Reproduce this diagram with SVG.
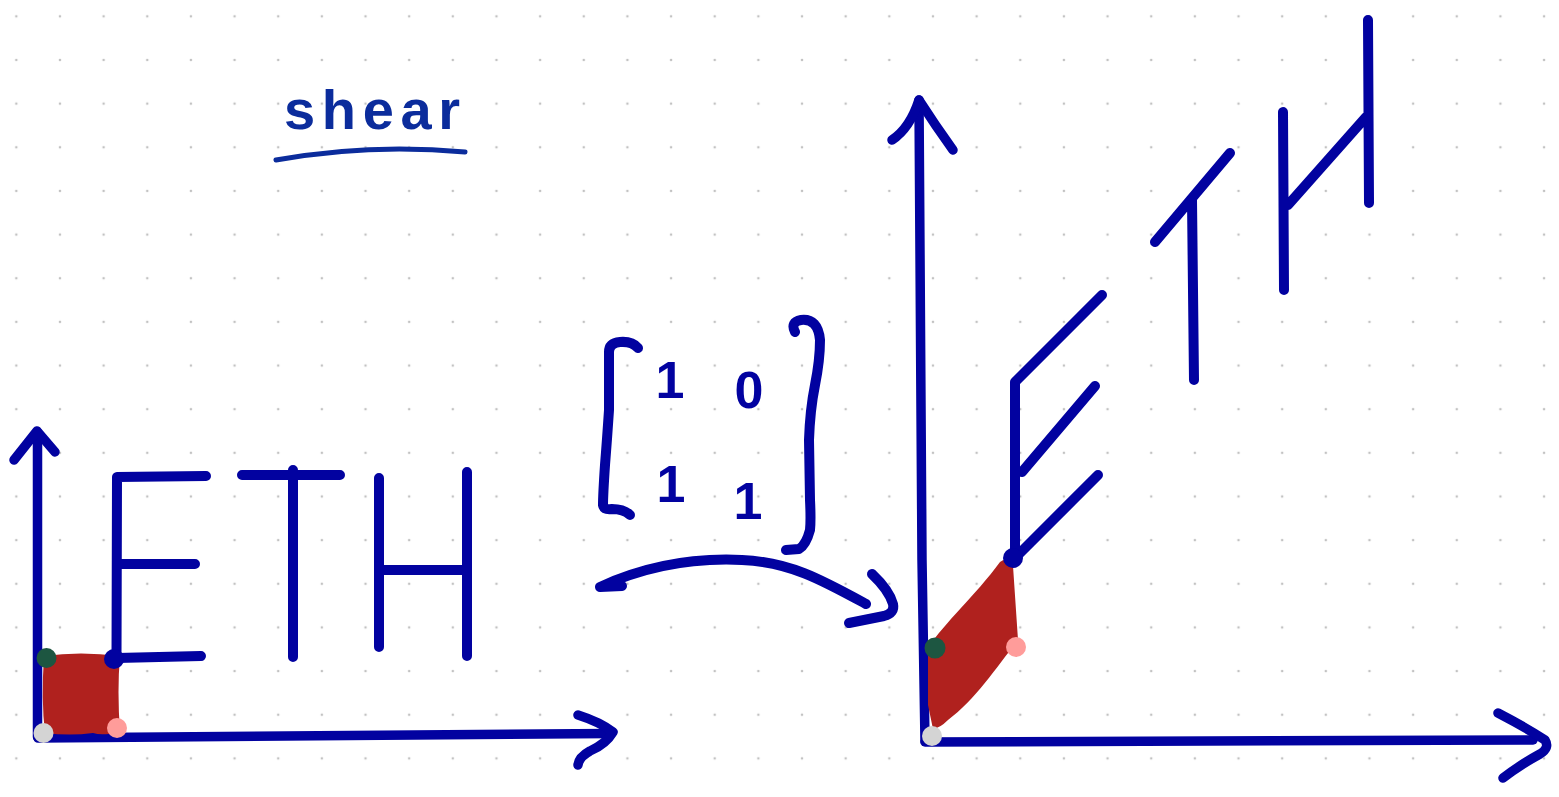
<svg xmlns="http://www.w3.org/2000/svg" width="1559" height="797" viewBox="0 0 1559 797">
<style>
.ink{fill:none;stroke:#0202a0;stroke-width:10;stroke-linecap:round;stroke-linejoin:round}
.axis{fill:none;stroke:#0202a0;stroke-width:9.5;stroke-linecap:round;stroke-linejoin:round}
.num{font-family:"Liberation Sans",Arial,sans-serif;font-weight:bold;font-size:52px;fill:#0202a0;text-anchor:middle}
.title{font-family:"Liberation Sans",Arial,sans-serif;font-weight:bold;font-size:56px;fill:#0b2c9c}
.blob{fill:#b0211e}
</style>
<defs>
<pattern id="dots" width="43.65" height="43.65" patternUnits="userSpaceOnUse" x="-5.5" y="-5.5">
<circle cx="21.8" cy="21.8" r="1.3" fill="#c2c2c2"/>
</pattern>
</defs>
<rect width="1559" height="797" fill="#ffffff"/>
<rect width="1559" height="797" fill="url(#dots)"/>

<g id="title">
<text class="title" x="284" y="129" textLength="176" lengthAdjust="spacing">shear</text>
<path d="M276,160 Q370,143 465,152" fill="none" stroke="#0b2c9c" stroke-width="5" stroke-linecap="round"/>
</g>

<g id="matrix">
<path class="ink" d="M638,348 Q632,341 620,342 Q609,343 609,352 L609,410 Q607,440 605,465 Q603,495 603,505 Q604,510 612,509 Q624,509 630,515"/>
<path class="ink" d="M795,332 Q790,322 801,320 Q818,318 820,340 Q820,360 815,385 Q810,410 809,440 L810,500 Q811,520 810,530 Q806,545 799,549 L786,550"/>
<text class="num" x="670" y="398">1</text>
<text class="num" x="749" y="408">0</text>
<text class="num" x="671" y="502">1</text>
<text class="num" x="748" y="519">1</text>
</g>

<g id="left-plot">
<path class="axis" d="M37.5,737 L37.5,432"/>
<path class="axis" d="M14,460 L37,431 L55,452"/>
<path class="axis" d="M38,738 L610,733.5"/>
<path class="axis" d="M578,715 Q600,722 613,732 Q606,744 590,751 Q579,757 578,765"/>
<path class="blob" d="M44,656 Q80,651 120,656 Q117,690 120,732 Q102,736 93,733 Q70,736 45,733 Q41,700 44,656 Z"/>
<g id="letters-eth">
<path class="ink" d="M206,476 L117,477 L116.5,659 M117,564 L195,564 M117,658 L201,656"/>
<path class="ink" d="M242,475 L340,475 M293,470 L293,657"/>
<path class="ink" d="M379,478 L379,647 M379,570 L467,570 M467,472 L467,656"/>
</g>
<circle cx="46.5" cy="658" r="10" fill="#1d5641"/>
<circle cx="114" cy="659" r="10" fill="#0202a0"/>
<circle cx="43.5" cy="733" r="10" fill="#d4d4d4"/>
<circle cx="117" cy="728" r="10" fill="#ff9c9a"/>
</g>

<g id="right-plot">
<path class="axis" d="M925,741 L922,560 L919,100"/>
<path class="axis" d="M892,140 Q910,128 919,100 Q935,125 953,150"/>
<path class="axis" d="M925,742 L1533,740"/>
<path class="axis" d="M1498,713 Q1525,727 1545,740 Q1550,748 1540,754 Q1520,765 1503,778"/>
<path class="blob" d="M1000,562 Q1008,556 1013,566 L1018,640 C996,668 975,700 948,720 Q940,728 933,729 L928,705 L928,648 C945,622 975,596 1000,562 Z"/>
<g id="letters-eth-sheared">
<path class="ink" d="M1102,295 L1015,382 L1015,558 M1022,472 L1095,386 M1015,558 L1098,475"/>
<path class="ink" d="M1155,242 L1230,153 M1192,200 L1194,380"/>
<path class="ink" d="M1283,112 L1284,290 M1288,205 L1366,117 M1368,20 L1369,203"/>
</g>
<circle cx="935" cy="648" r="10.5" fill="#1d5641"/>
<circle cx="1013" cy="558" r="10" fill="#0202a0"/>
<circle cx="932" cy="736" r="10" fill="#d4d4d4"/>
<circle cx="1016" cy="647" r="10" fill="#ff9c9a"/>
</g>

<g id="connectors">
<path class="ink" d="M622,586 L600,587 C650,564 700,558 742,560 C790,562 822,580 866,604"/>
<path class="ink" d="M872,574 Q889,590 893,604 Q895,613 884,616 L849,623"/>
</g>
</svg>
